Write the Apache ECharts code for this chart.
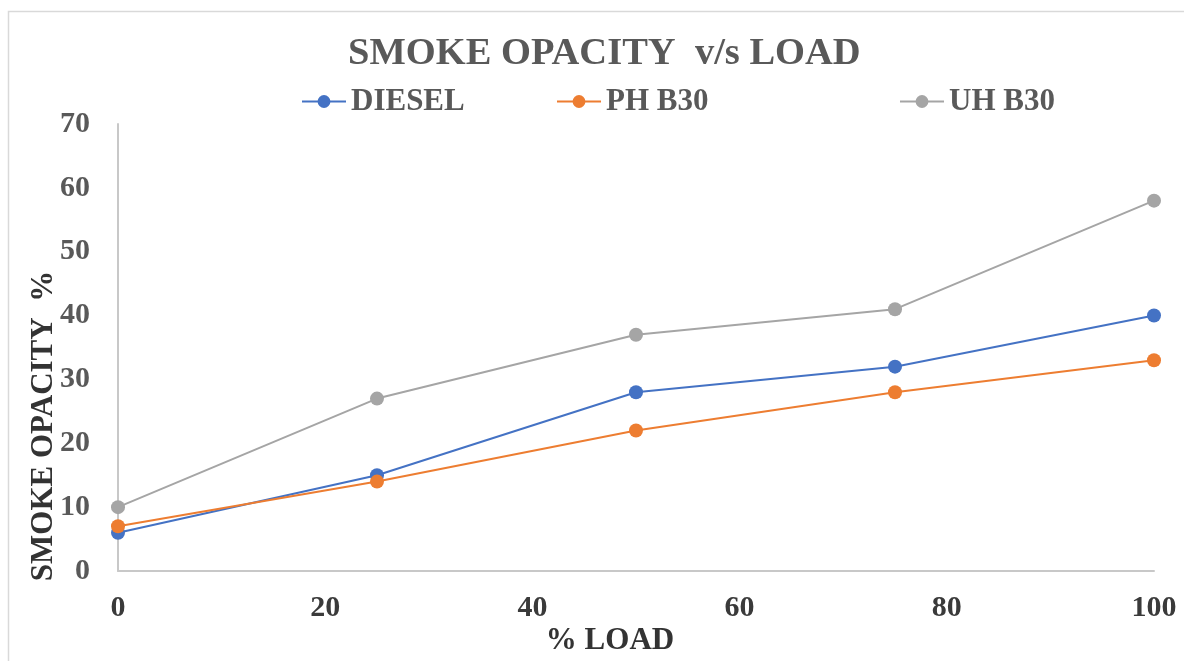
<!DOCTYPE html>
<html>
<head>
<meta charset="utf-8">
<title>Smoke Opacity v/s Load</title>
<script src="https://cdn.jsdelivr.net/npm/echarts@6/dist/echarts.min.js"></script>
<style>
  html, body { margin: 0; padding: 0; background: #ffffff; }
  #chart { width: 1184px; height: 661px; }
</style>
</head>
<body>
<div id="chart"></div>
<script>
// Engine load (%) at each measurement point
const loads = [0, 25, 50, 75, 100];

// Smoke opacity (%) per fuel
const diesel = [6, 15, 28, 32, 40];
const phB30 = [7, 14, 22, 28, 33];
const uhB30 = [10, 27, 37, 41, 58];

const seriesNames = ['DIESEL', 'PH B30', 'UH B30'];
const seriesColors = ['#4472C4', '#ED7D31', '#A5A5A5'];

const FONT = '"Liberation Serif", "Times New Roman", serif';

function pairs(values) {
  return loads.map((x, i) => [x, values[i]]);
}

function lineSeries(name, values, color) {
  return {
    name: name,
    type: 'line',
    data: pairs(values),
    symbol: 'circle',
    symbolSize: 14,
    itemStyle: { color: color },
    lineStyle: { color: color, width: 2 },
    emphasis: { disabled: true },
    animation: false
  };
}

function legendAt(name, left) {
  return {
    data: [name],
    left: left,
    top: 86,
    padding: 0,
    itemWidth: 44,
    itemHeight: 16,
    itemGap: 6,
    textStyle: { fontFamily: FONT, fontWeight: 'bold', fontSize: 31, color: '#595959' },
    selectedMode: false
  };
}

const chart = echarts.init(document.getElementById('chart'), null, { renderer: 'canvas' });

chart.setOption({
  backgroundColor: '#ffffff',
  animation: false,
  title: {
    text: 'SMOKE OPACITY  v/s LOAD',
    left: 343,
    top: 30,
    textStyle: { fontFamily: FONT, fontWeight: 'bold', fontSize: 38.5, color: '#595959' }
  },
  legend: [
    legendAt(seriesNames[0], 301),
    legendAt(seriesNames[1], 556),
    legendAt(seriesNames[2], 899)
  ],
  grid: { left: 118, right: 30, top: 124, bottom: 90, containLabel: false },
  xAxis: {
    type: 'value',
    min: 0,
    max: 100,
    interval: 20,
    axisLine: { show: true, lineStyle: { color: '#c8c8c8', width: 2 } },
    axisTick: { show: false },
    splitLine: { show: false },
    axisLabel: {
      margin: 22,
      fontFamily: FONT, fontWeight: 'bold', fontSize: 30, color: '#3a3a3a'
    }
  },
  yAxis: {
    type: 'value',
    min: 0,
    max: 70,
    interval: 10,
    axisLine: { show: true, lineStyle: { color: '#c8c8c8', width: 2 } },
    axisTick: { show: false },
    splitLine: { show: false },
    axisLabel: {
      margin: 28,
      fontFamily: FONT, fontWeight: 'bold', fontSize: 30, color: '#595959'
    }
  },
  graphic: [
    {
      type: 'rect',
      silent: true,
      shape: { x: 8.5, y: 11.5, width: 1300, height: 800 },
      style: { fill: 'none', stroke: '#d9d9d9', lineWidth: 1.5 },
      z: -10
    },
    {
      type: 'text',
      silent: true,
      x: 44,
      y: 426,
      rotation: Math.PI / 2,
      style: {
        text: 'SMOKE OPACITY  %',
        fontFamily: FONT, fontWeight: 'bold', fontSize: 31, fill: '#333333',
        textAlign: 'center', textVerticalAlign: 'middle'
      }
    },
    {
      type: 'text',
      silent: true,
      x: 610,
      y: 641,
      style: {
        text: '% LOAD',
        fontFamily: FONT, fontWeight: 'bold', fontSize: 31, fill: '#333333',
        textAlign: 'center', textVerticalAlign: 'middle'
      }
    }
  ],
  series: [
    lineSeries(seriesNames[0], diesel, seriesColors[0]),
    lineSeries(seriesNames[1], phB30, seriesColors[1]),
    lineSeries(seriesNames[2], uhB30, seriesColors[2])
  ]
});
</script>
</body>
</html>
